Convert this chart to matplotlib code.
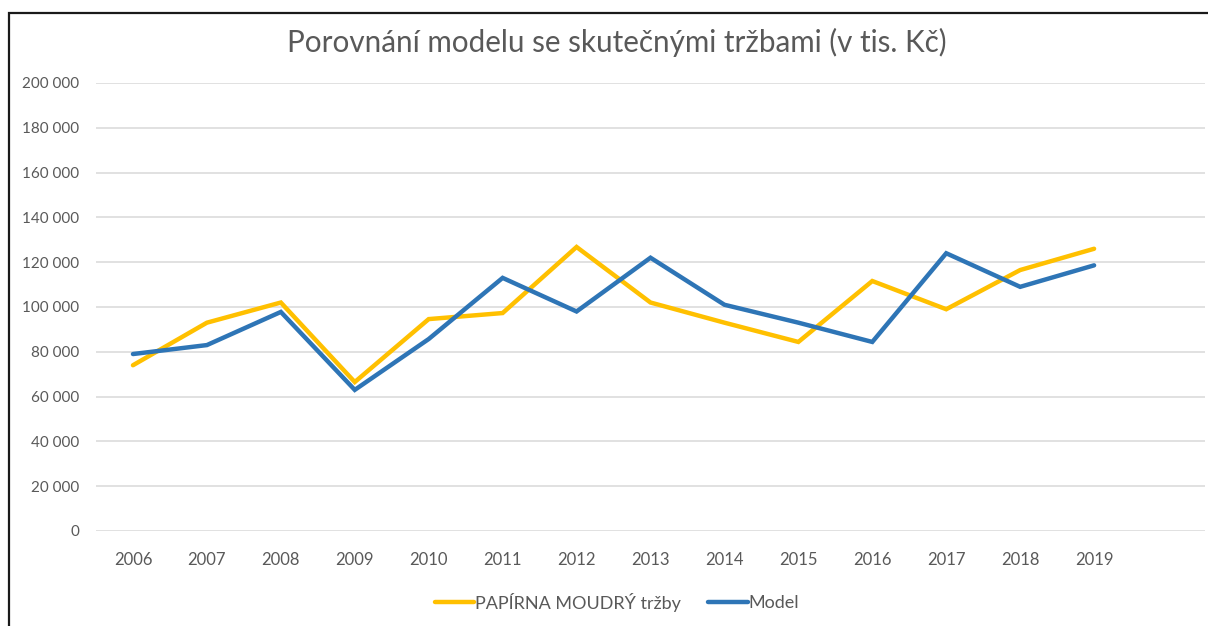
import matplotlib
matplotlib.use("Agg")
import matplotlib.pyplot as plt
from matplotlib.patches import Rectangle
from matplotlib.ticker import FuncFormatter

years = ["2006", "2007", "2008", "2009", "2010", "2011", "2012",
         "2013", "2014", "2015", "2016", "2017", "2018", "2019"]
trzby = [74000, 93000, 102000, 66500, 94600, 97300, 126800,
         102000, 93000, 84400, 111600, 99000, 116500, 126000]
model = [79000, 83000, 97800, 63000, 85700, 113000, 98000,
         122000, 101000, 93000, 84400, 124000, 109000, 118600]

plt.rcParams['font.family'] = ['Lato', 'DejaVu Sans']
txt = '#595959'

fig = plt.figure(figsize=(12.08, 6.26), dpi=100)
fig.patches.append(Rectangle((9 / 1208, -0.01), 1.2, 1 - 12.5 / 626 + 0.01,
                             transform=fig.transFigure, fill=False,
                             edgecolor='#1a1a1a', linewidth=1.6))

ax = fig.add_axes([96 / 1208, 1 - 531 / 626, (1205 - 96) / 1208, (531 - 83) / 626])
x = list(range(len(years)))
ax.plot(x, trzby, color='#FFC000', linewidth=3.2, label='PAPÍRNA MOUDRÝ tržby',
        solid_capstyle='round', solid_joinstyle='miter')
ax.plot(x, model, color='#2E75B6', linewidth=3.2, label='Model',
        solid_capstyle='round', solid_joinstyle='miter')

ax.set_xlim(-0.5, 14.5)
ax.set_ylim(0, 200000)
ax.set_yticks(range(0, 200001, 20000))
ax.yaxis.set_major_formatter(FuncFormatter(lambda v, p: f"{int(v):,}".replace(',', ' ')))
ax.set_xticks(x)
ax.set_xticklabels(years)
ax.grid(axis='y', color='#D9D9D9', linewidth=1.1)
ax.set_axisbelow(True)
for s in ax.spines.values():
    s.set_visible(False)
ax.tick_params(length=0, labelcolor=txt)
ax.tick_params(axis='y', pad=12, labelsize=11)
ax.tick_params(axis='x', pad=15, labelsize=12)

fig.text(617 / 1208, 1 - 42 / 626, 'Porovnání modelu se skutečnými tržbami (v tis. Kč)',
         ha='center', va='center', fontsize=21.3, color=txt)

fig.legend(loc='center', bbox_to_anchor=(617 / 1208, 1 - 602 / 626), ncol=2,
           frameon=False, fontsize=13, labelcolor=txt, handlelength=2.2,
           handletextpad=0.05, columnspacing=1.5)

plt.savefig("out.png", dpi=100)
plt.close()
